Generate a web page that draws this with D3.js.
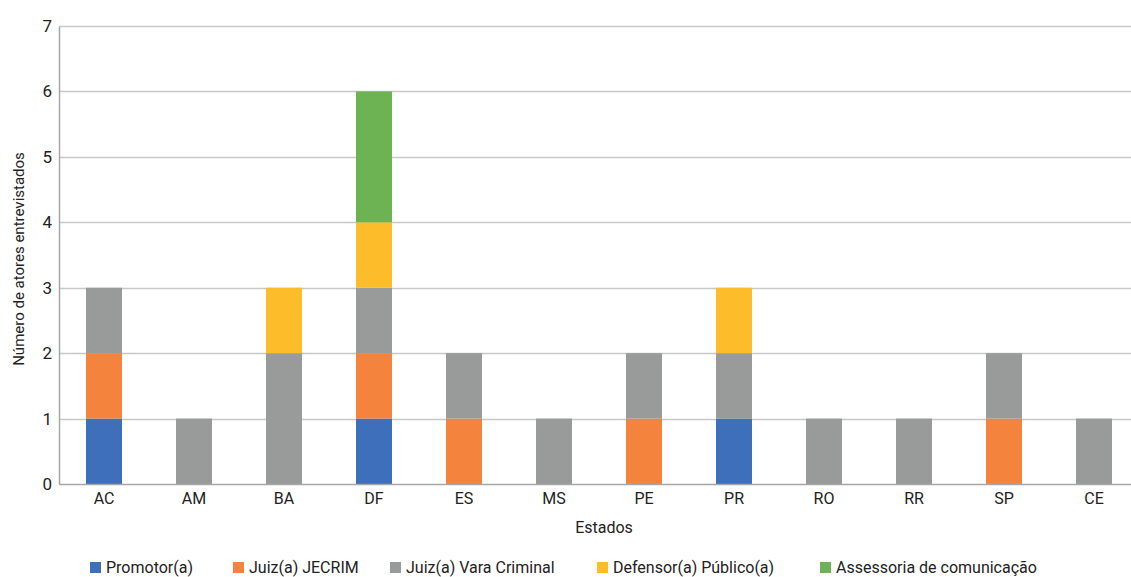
<!DOCTYPE html>
<html>
<head>
<meta charset="utf-8">
<script src="https://cdn.jsdelivr.net/npm/d3@7"></script>
<style>
  body { margin: 0; background: #fff; }
  text { font-family: Roboto, "Liberation Sans", sans-serif; fill: #222; }
</style>
</head>
<body>
<script>
// -------------------- DATA --------------------
var estados = ["AC", "AM", "BA", "DF", "ES", "MS", "PE", "PR", "RO", "RR", "SP", "CE"];
var series = ["Promotor(a)", "Juiz(a) JECRIM", "Juiz(a) Vara Criminal", "Defensor(a) Público(a)", "Assessoria de comunicação"];
var promotor   = [1, 0, 0, 1, 0, 0, 0, 1, 0, 0, 0, 0];
var jecrim     = [1, 0, 0, 1, 1, 0, 1, 0, 0, 0, 1, 0];
var vara       = [1, 1, 2, 1, 1, 1, 1, 1, 1, 1, 1, 1];
var defensor   = [0, 0, 1, 1, 0, 0, 0, 1, 0, 0, 0, 0];
var assessoria = [0, 0, 0, 2, 0, 0, 0, 0, 0, 0, 0, 0];
var yTicks = [0, 1, 2, 3, 4, 5, 6, 7];

var colors = ["#3d6fba", "#f4843d", "#999b9b", "#fdbd2b", "#6db354"];

// -------------------- DIMENSIONS --------------------
var w = 1131, h = 577;
var margin = { top: 26, right: -8, bottom: 93, left: 59 };
var innerW = w - margin.left - margin.right;
var innerH = h - margin.top - margin.bottom;

var table = estados.map(function(e, i) {
  return { estado: e, s0: promotor[i], s1: jecrim[i], s2: vara[i], s3: defensor[i], s4: assessoria[i] };
});
var keys = ["s0", "s1", "s2", "s3", "s4"];
var stacked = d3.stack().keys(keys)(table);

var x = d3.scaleBand().domain(estados).range([0, innerW]).paddingInner(0.6).paddingOuter(0.3);
var y = d3.scaleLinear().domain([0, 7]).range([innerH, 0]);

var svg = d3.select("body").append("svg").attr("width", w).attr("height", h);
var g = svg.append("g").attr("transform", "translate(" + margin.left + "," + margin.top + ")");

// gridlines
g.selectAll("line.grid")
  .data(yTicks.filter(function(t){ return t > 0; }))
  .enter().append("line")
  .attr("class", "grid")
  .attr("x1", 0).attr("x2", innerW)
  .attr("y1", function(d){ return Math.round(y(d)) + 0.5; })
  .attr("y2", function(d){ return Math.round(y(d)) + 0.5; })
  .attr("stroke", "#c8c8c8").attr("stroke-width", 1.5);

// bars
g.selectAll("g.layer")
  .data(stacked)
  .enter().append("g")
  .attr("fill", function(d, i){ return colors[i]; })
  .selectAll("rect")
  .data(function(d){ return d; })
  .enter().append("rect")
  .attr("x", function(d){ return x(d.data.estado); })
  .attr("width", x.bandwidth())
  .attr("y", function(d){ return y(d[1]); })
  .attr("height", function(d){ return y(d[0]) - y(d[1]); });

// axes
var yAxis = g.append("g").call(d3.axisLeft(y).tickValues(yTicks).tickFormat(d3.format("d")).tickSize(0).tickPadding(7));
yAxis.select(".domain").attr("stroke", "#a6a6a6").attr("stroke-width", 1.5);
yAxis.selectAll("text").attr("font-size", "17px").attr("fill", "#222");

var xAxis = g.append("g").attr("transform", "translate(0," + innerH + ")")
  .call(d3.axisBottom(x).tickSize(0).tickPadding(9));
xAxis.select(".domain").attr("stroke", "#a6a6a6").attr("stroke-width", 1.5);
xAxis.selectAll("text").attr("font-size", "16px").attr("fill", "#222");

// titles
svg.append("text")
  .attr("transform", "translate(24,259) rotate(-90)")
  .attr("text-anchor", "middle")
  .attr("font-size", "15px")
  .text("Número de atores entrevistados");

svg.append("text")
  .attr("x", 604).attr("y", 533)
  .attr("text-anchor", "middle")
  .attr("font-size", "16px")
  .text("Estados");

// legend
var legendX = [90, 233, 390, 597, 820];
var legend = svg.append("g").selectAll("g")
  .data(series)
  .enter().append("g")
  .attr("transform", function(d, i){ return "translate(" + legendX[i] + ",562)"; });
legend.append("rect").attr("width", 11).attr("height", 11).attr("fill", function(d, i){ return colors[i]; });
legend.append("text").attr("x", 16).attr("y", 11).attr("font-size", "16px").text(function(d){ return d; });
</script>
</body>
</html>
